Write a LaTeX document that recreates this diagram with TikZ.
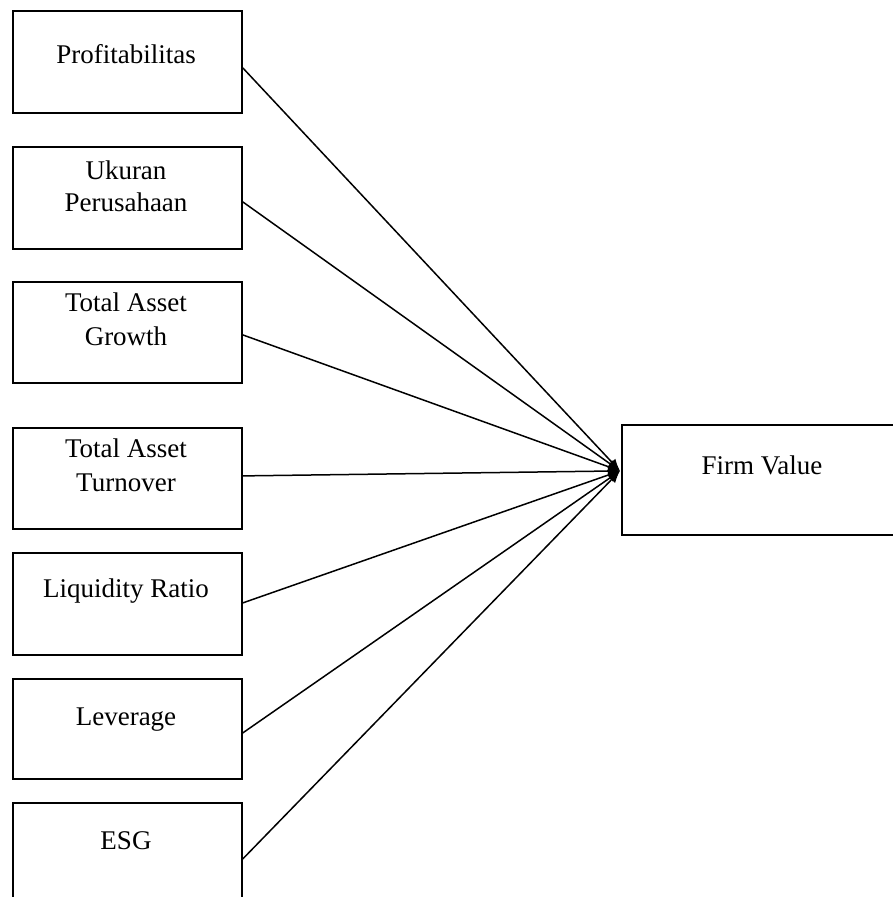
\documentclass[tikz,border=0pt]{standalone}
\usepackage{fontspec}
\setmainfont{Liberation Serif}
\usetikzlibrary{arrows.meta,calc}
\begin{document}
\begin{tikzpicture}[x=1pt,y=-1pt,
  box/.style={draw, line width=1.8pt, minimum width=229pt, inner sep=0pt, anchor=north west},
  lbl/.style={font=\fontsize{27}{33}\selectfont, anchor=base, inner sep=0pt},
  conn/.style={line width=1.5pt, -{Latex[length=12pt,width=10pt]}}]
\useasboundingbox (0,0) rectangle (893,897);
\clip (0,0) rectangle (893,897);
% boxes
\node[box, minimum height=102pt] (b1) at (12,10) {};
\node[box, minimum height=102pt] (b2) at (12,146) {};
\node[box, minimum height=101pt] (b3) at (12,281) {};
\node[box, minimum height=101pt] (b4) at (12,427) {};
\node[box, minimum height=102pt] (b5) at (12,552) {};
\node[box, minimum height=100pt] (b6) at (12,678) {};
\node[box, minimum height=112pt] (b7) at (12,802) {};
\node[box, minimum width=300pt, minimum height=110pt] (fv) at (621,424) {};
% labels
\node[lbl] (t1) at (126,63) {Profitabilitas};
\node[lbl] (t2a) at (126,179) {Ukuran};
\node[lbl] (t2b) at (126,211) {Perusahaan};
\node[lbl] (t3a) at (126,311) {Total Asset};
\node[lbl] (t3b) at (126,345) {Growth};
\node[lbl] (t4a) at (126,457) {Total Asset};
\node[lbl] (t4b) at (126,491) {Turnover};
\node[lbl] (t5) at (126,597) {Liquidity Ratio};
\node[lbl] (t6) at (126,725) {Leverage};
\node[lbl] (t7) at (126,849) {ESG};
\node[lbl] (t8) at (762,474) {Firm Value};
% connectors
\coordinate (tip) at ($(fv.west)+(-1,-9)$);
\draw[conn] ($(b1.east)+(0,6)$) -- (tip);
\draw[conn] ($(b2.east)+(0,4)$) -- (tip);
\draw[conn] ($(b3.east)+(0,2.5)$) -- (tip);
\draw[conn] ($(b4.east)+(0,-2.5)$) -- (tip);
\draw[conn] ($(b5.east)+(0,-1)$) -- (tip);
\draw[conn] ($(b6.east)+(0,4)$) -- (tip);
\draw[conn] (b7.east) -- (tip);
\end{tikzpicture}
\end{document}
